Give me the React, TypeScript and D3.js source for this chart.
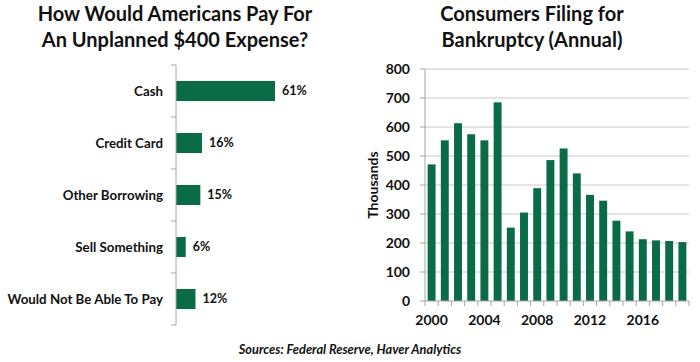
import React from 'react';
import * as d3 from 'd3';

// Left chart: how would Americans pay for a $400 expense
const payMethods = ['Cash', 'Credit Card', 'Other Borrowing', 'Sell Something', 'Would Not Be Able To Pay'];
const payShares = [61, 16, 15, 6, 12];

// Right chart: consumers filing for bankruptcy (thousands)
const years = [2000, 2001, 2002, 2003, 2004, 2005, 2006, 2007, 2008, 2009, 2010, 2011, 2012, 2013, 2014, 2015, 2016, 2017, 2018, 2019];
const filings = [471, 554, 613, 575, 554, 685, 253, 305, 389, 486, 526, 440, 366, 346, 277, 240, 213, 209, 207, 203];
const yearLabels = [2000, 2004, 2008, 2012, 2016];
const filingTicks = [0, 100, 200, 300, 400, 500, 600, 700, 800];

const GREEN = '#0a6b47';
const AXIS = '#a6a6a6';
const GRID = '#c8c8c8';
const FONT = 'Lato, "Open Sans", sans-serif';

function PayChart() {
    const x0 = 176;
    const x = d3.scaleLinear().domain([0, 61]).range([x0, 275]);
    const y = d3.scaleBand<string>()
        .domain(payMethods)
        .range([65, 325])
        .paddingInner(0.615)
        .paddingOuter(0.3075);
    const step = y.step();
    const bounds = d3.range(payMethods.length + 1).map(i => 65 + i * step);

    return (
        <g>
            <text x={175} y={21} textAnchor="middle" fontFamily={FONT} fontWeight="bold" fontSize={20} fill="#111">
                How Would Americans Pay For
            </text>
            <text x={175} y={47} textAnchor="middle" fontFamily={FONT} fontWeight="bold" fontSize={20} fill="#111">
                An Unplanned $400 Expense?
            </text>

            {payMethods.map((m, i) => (
                <g key={m}>
                    <rect x={x0} y={y(m)} width={x(payShares[i]) - x0} height={y.bandwidth()}
                          fill={GREEN} />
                    <text x={163} y={y(m)! + y.bandwidth() / 2} dy="0.35em" textAnchor="end"
                          fontFamily={FONT} fontWeight="bold" fontSize={13.3} fill="#111">{m}</text>
                    <text x={x(payShares[i]) + 7} y={y(m)! + y.bandwidth() / 2} dy="0.35em"
                          fontFamily={FONT} fontWeight="bold" fontSize={12.5} fill="#111">{payShares[i]}%</text>
                </g>
            ))}

            <line x1={x0} x2={x0} y1={65} y2={325} stroke={AXIS} />
            {bounds.map(b => (
                <line key={b} x1={x0 - 5} x2={x0} y1={b} y2={b} stroke={AXIS} />
            ))}
        </g>
    );
}

function FilingChart() {
    const left = 425, right = 689, top = 69, bottom = 301;
    const x = d3.scaleBand<number>()
        .domain(years)
        .range([left, right])
        .paddingInner(0.4)
        .paddingOuter(0.2);
    const y = d3.scaleLinear().domain([0, 800]).range([bottom, top]);
    const step = x.step();
    const x0 = x(years[0])! - step * x.paddingOuter();
    const bounds = d3.range(years.length + 1).map(i => x0 + i * step);

    return (
        <g>
            <text x={532} y={21} textAnchor="middle" fontFamily={FONT} fontWeight="bold" fontSize={20} fill="#111">
                Consumers Filing for
            </text>
            <text x={532} y={47} textAnchor="middle" fontFamily={FONT} fontWeight="bold" fontSize={20} fill="#111">
                Bankruptcy (Annual)
            </text>

            {filingTicks.map(t => (
                <g key={t}>
                    {t > 0 && <line x1={left} x2={right} y1={y(t)} y2={y(t)} stroke={GRID} />}
                    <line x1={left - 5} x2={left} y1={y(t)} y2={y(t)} stroke={AXIS} />
                    <text x={410} y={y(t)} dy="0.35em" textAnchor="end" fontFamily={FONT}
                          fontWeight="bold" fontSize={14} fill="#111">{t}</text>
                </g>
            ))}

            {years.map((yr, i) => (
                <rect key={yr} x={x(yr)} y={y(filings[i])} width={x.bandwidth()}
                      height={bottom - y(filings[i])} fill={GREEN} />
            ))}

            <line x1={left} x2={left} y1={top} y2={bottom} stroke={AXIS} />
            <line x1={left} x2={right} y1={bottom} y2={bottom} stroke={AXIS} />
            {bounds.map(b => (
                <line key={b} x1={b} x2={b} y1={bottom} y2={bottom + 5} stroke={AXIS} />
            ))}

            {yearLabels.map(yr => (
                <text key={yr} x={x(yr)! + x.bandwidth() / 2} y={325} textAnchor="middle"
                      fontFamily={FONT} fontWeight="bold" fontSize={14} fill="#111">{yr}</text>
            ))}

            <text transform={`translate(378,185) rotate(-90)`} textAnchor="middle"
                  fontFamily={FONT} fontWeight="bold" fontSize={14} fill="#111">Thousands</text>
        </g>
    );
}

export default function App() {
    return (
        <svg width={700} height={362} style={{ position: 'absolute', left: 0, top: 0, background: '#fff' }}>
            <rect width={700} height={362} fill="#fff" />
            <PayChart />
            <FilingChart />
            <text x={350} y={354} textAnchor="middle" fontFamily={FONT} fontWeight="bold"
                  fontStyle="italic" fontSize={12.8} fill="#111">
                Sources: Federal Reserve, Haver Analytics
            </text>
        </svg>
    );
}
